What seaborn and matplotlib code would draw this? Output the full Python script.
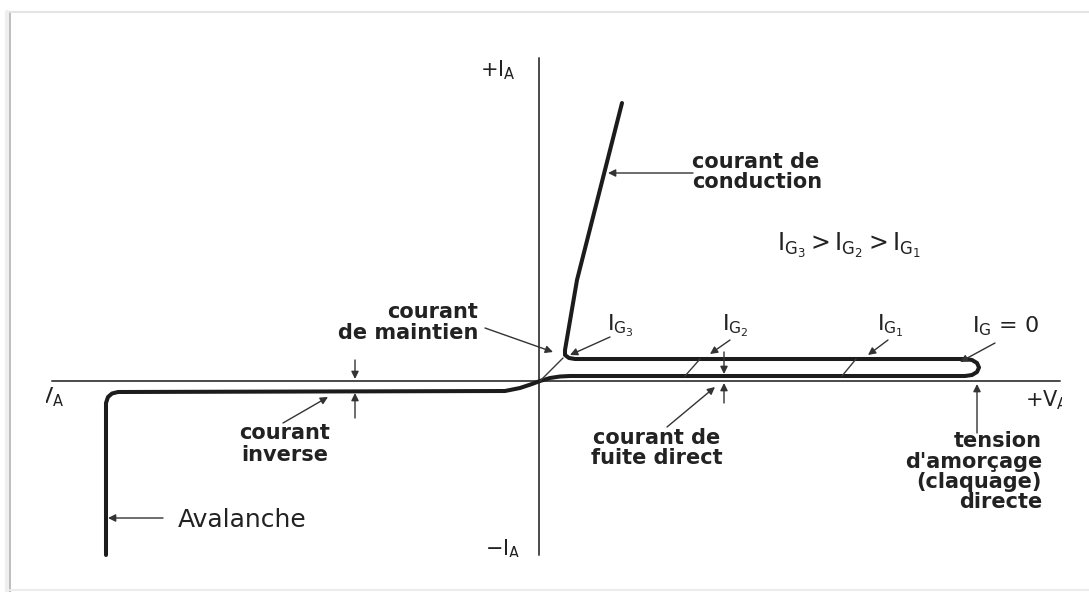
import seaborn as sns
import matplotlib.pyplot as plt

# ==================== Data ====================
# picture size and where the axes cross (pixels)
W, H = 1089, 592
OX, OY = 540, 381

# thyristor characteristic, units measured from the origin (V to the right, I upwards)
# avalanche -> reverse blocking -> forward blocking loop (IG = 0) -> conduction
main_v = [-434, -434, -432, -428, -422, -35, -20, -8, 0, 10, 20, 30,
          425, 432, 437, 439, 437, 432, 425, 35, 29, 25, 25, 37, 82]
main_i = [-174, -22, -16, -12.5, -11, -10, -7, -3, 0, 3, 4.5, 5,
          5, 6, 9, 13.5, 18, 21, 22, 22, 23, 26, 31, 101, 278]

# thin switching branches for IG3 (holding), IG2, IG1
hold_v, hold_i = [0, 23], [0, 23]
ig2_v, ig2_i = [145, 160], [5, 22]
ig1_v, ig1_i = [302, 316], [5, 22]

# axes of the diagram
haxis_v, haxis_i = [-488, 520], [0, 0]
vaxis_v, vaxis_i = [-1, -1], [-174, 323]

# annotation arrows: (tail, tip)
arrows = [
    ((153, 208), (68, 208)),     # courant de conduction
    ((-55, 53), (13, 29)),       # courant de maintien
    ((70, 44), (30, 26)),        # IG3
    ((190, 41), (170, 27)),      # IG2
    ((348, 41), (328, 26)),      # IG1
    ((455, 38), (420, 19)),      # IG = 0
    ((-257, -42), (-212, -16)),  # courant inverse
    ((-185, 21), (-185, 2)),     # reverse gap, from above
    ((-185, -37), (-185, -12)),  # reverse gap, from below
    ((127, -46), (175, -6)),     # courant de fuite direct
    ((184, 29), (184, 7)),       # forward gap, from above
    ((184, -22), (184, -2)),     # forward gap, from below
    ((437, -52), (437, -3)),     # tension d'amorçage
    ((-377, -137), (-432, -137)),  # avalanche
]

# ==================== Figure ====================
sns.set_theme(style='white')
plt.rcParams['font.family'] = ['DejaVu Sans']
plt.rcParams['mathtext.fontset'] = 'dejavusans'

fig = plt.figure(figsize=(W / 100, H / 100), dpi=100)

# background frame of the screenshot
bg = fig.add_axes([0, 0, 1, 1])
bg.set_xlim(0, W)
bg.set_ylim(H, 0)
bg.axis('off')
bg.plot([7, 7], [12, 592], color='#efefef', lw=3)
bg.plot([10, 10], [12, 592], color='#bdbdbd', lw=1.4)
bg.plot([10, W], [12, 12], color='#e4e4e4', lw=1.5)
bg.plot([10, W], [590, 590], color='#ececec', lw=1.5)

# drawing area, cropped like the original figure
left, right, bottom, top = 46, 1062, 557, 40
ax = fig.add_axes([left / W, 1 - bottom / H, (right - left) / W, (bottom - top) / H])
ax.patch.set_alpha(0)
ax.set_xlim(left - OX, right - OX)
ax.set_ylim(OY - bottom, OY - top)
ax.axis('off')

ink = '#1c1c1c'
line_kw = dict(sort=False, estimator=None, ax=ax)
sns.lineplot(x=haxis_v, y=haxis_i, color='#4a4a4a', lw=1.4, **line_kw)
sns.lineplot(x=vaxis_v, y=vaxis_i, color='#4a4a4a', lw=1.4, **line_kw)
sns.lineplot(x=main_v, y=main_i, color=ink, lw=2.9, **line_kw)
for v, i in [(hold_v, hold_i), (ig2_v, ig2_i), (ig1_v, ig1_i)]:
    sns.lineplot(x=v, y=i, color='#3a3a3a', lw=1.0, **line_kw)

for tail, tip in arrows:
    ax.annotate('', xy=tip, xytext=tail,
                arrowprops=dict(arrowstyle='-|>', color='#333333', lw=1.0,
                                mutation_scale=11, shrinkA=0, shrinkB=0))


def put_lines(lines, x, y0, ha, step=20.5, **kw):
    for k, s in enumerate(lines):
        ax.text(x, y0 - k * step, s, ha=ha, va='center', color='#222222', **kw)


bold = dict(fontsize=15, fontweight='bold')
put_lines(['courant de', 'conduction'], 152, 219, 'left', step=20, **bold)
put_lines(['courant', 'de maintien'], -62, 69, 'right', step=21, **bold)
put_lines(['courant', 'inverse'], -255, -52, 'center', step=22, **bold)
put_lines(['courant de', 'fuite direct'], 117, -57, 'center', step=20, **bold)
put_lines(['tension', "d'amorçage", '(claquage)', 'directe'], 502, -60, 'right', **bold)
ax.text(-362, -139, 'Avalanche', ha='left', va='center', fontsize=18, color='#222222')

ax.text(237, 136, r'$\mathrm{I_{G_3} > I_{G_2} > I_{G_1}}$', ha='left', va='center',
        fontsize=17, color='#222222')
ig_labels = [(67, r'$\mathrm{I_{G_3}}$'), (182, r'$\mathrm{I_{G_2}}$'),
             (337, r'$\mathrm{I_{G_1}}$'), (432, r'$\mathrm{I_G}$ = 0')]
for x, s in ig_labels:
    ax.text(x, 55, s, ha='left', va='center', fontsize=16, color='#222222')

# axis names, clipped by the crop of the drawing
axis_kw = dict(fontsize=15, color='#222222', va='center', clip_on=True)
ax.text(-60, 311, r'$\mathrm{+I_A}$', ha='left', **axis_kw)
ax.text(-55, -168, r'$\mathrm{-I_A}$', ha='left', **axis_kw)
ax.text(-475, -16, r'$\mathrm{-V_A}$', ha='right', **axis_kw)
ax.text(485, -19, r'$\mathrm{+V_A}$', ha='left', **axis_kw)

fig.savefig('out.png', dpi=100)
